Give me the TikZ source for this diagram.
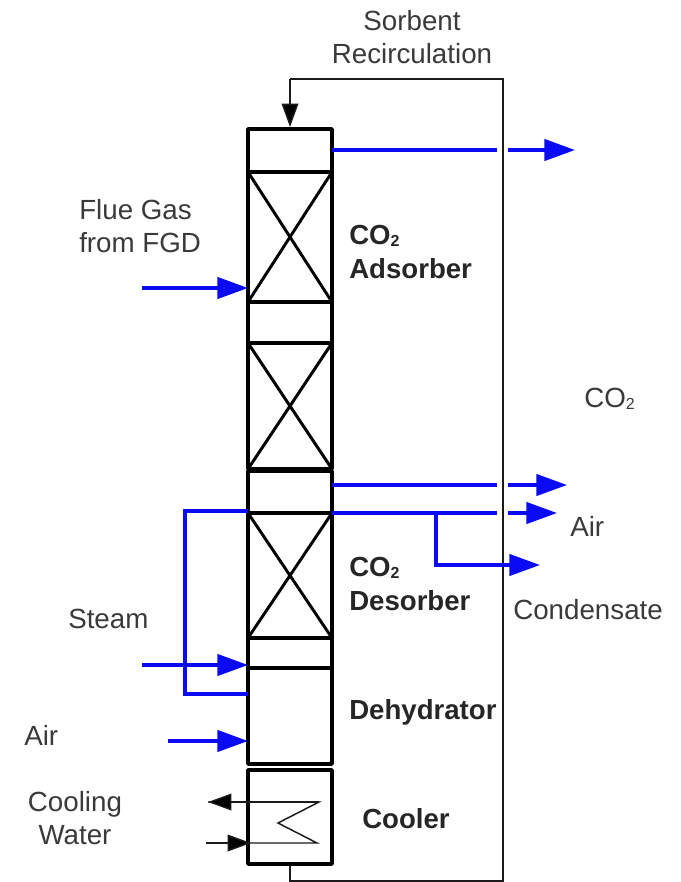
\documentclass[tikz,border=0pt]{standalone}
\usepackage{fontspec}
\setmainfont{Liberation Sans}
\usetikzlibrary{fit,arrows.meta,calc}
\definecolor{gasblue}{HTML}{0A0AF5}
\definecolor{textgrey}{HTML}{3A3A3A}
\definecolor{linegrey}{HTML}{1A1A1A}
\newcommand{\subtwo}{{\fontsize{12}{12}\selectfont\raisebox{-1.5pt}{2}}}
\tikzset{
  section/.style = {draw=black, line width=2.6pt, inner sep=0pt, outer sep=0pt, line join=round},
  xline/.style   = {draw=black, line width=2.2pt},
  txt/.style     = {font=\fontsize{20.8}{24.75}\selectfont, text=textgrey, align=left, anchor=west, inner sep=0pt},
  unit/.style    = {txt, font=\fontsize{20.7}{25.2}\selectfont\bfseries, text=black!85},
  gas/.style     = {draw=gasblue, line width=2.5pt, line join=miter},
  gasarrow/.style = {gas, -{Triangle[length=23pt,width=16pt,fill=gasblue]}},
  coil/.style    = {draw=linegrey, line width=1.1pt},
  coilarrow/.style = {coil, -{Triangle[length=17.5pt,width=12.5pt,fill=black]}},
}
\begin{document}
\begin{tikzpicture}[x=0.75pt,y=-0.75pt]
\useasboundingbox (0,0) rectangle (681,882);

%% recirculation loop, behind the tower
\coordinate (rcA) at (290,864);
\coordinate (rcB) at (290,881);
\coordinate (rcC) at (503,881);
\coordinate (rcD) at (503,79);
\coordinate (rcE) at (290,79);
\coordinate (rcF) at (290,127);
\draw[coil] (rcA) -- (rcB) -- (rcC) -- (rcD) -- (rcE);
\draw[coilarrow] (rcE) -- (rcF);

%% tower sections
\foreach \nm/\ya/\yb in {cap/129/172, bedA/172/302, gapA/302/343, bedB/343/469,
                         gapB/471/513, bedC/513/638, gapC/638/668, dehy/668/764, cool/770/864}
  \node[section, fit={(248,\ya)(332,\yb)}] (\nm) {};
\foreach \nm in {bedA,bedB,bedC} {
  \draw[xline] (\nm.north west) -- (\nm.south east);
  \draw[xline] (\nm.north east) -- (\nm.south west);
}

%% cooler coil
\coordinate (cwOut) at (208,802);
\coordinate (cwA) at (319,802);
\coordinate (cwB) at (278,823);
\coordinate (cwC) at (317,843);
\coordinate (cwIn) at (206,843);
\coordinate (cwTip) at (251,843);
\draw[coil] (cwIn) -- (cwC) -- (cwB) -- (cwA) -- (cwOut);
\draw[coilarrow] (cwA) -- (cwOut);
\draw[coilarrow] (cwIn) -- (cwTip);

%% gas feeds
\coordinate (flueIn) at (142,288);
\coordinate (steamIn) at (142,665);
\coordinate (airIn) at (168,741);
\draw[gasarrow] (flueIn) -- (flueIn -| bedA.west);
\draw[gasarrow] (steamIn) -- (steamIn -| gapC.west);
\draw[gasarrow] (airIn) -- (airIn -| dehy.west);

%% dehydrator return
\coordinate (rtA) at (248,511);
\coordinate (rtB) at (185,511);
\coordinate (rtC) at (185,694);
\coordinate (rtD) at (248,694);
\draw[gas] (rtA) -- (rtB) -- (rtC) -- (rtD);

%% outlets, broken at the loop
\coordinate (outA) at (497,150);
\coordinate (outB) at (497,485);
\coordinate (outC) at (497,513);
\coordinate (tipA) at (575,150);
\coordinate (tipB) at (567,485);
\coordinate (tipC) at (557,513);
\draw[gas] (cap.east |- outA) -- (outA);
\draw[gas] (gapB.east |- outB) -- (outB);
\draw[gas] (bedC.north east) -- (outC);
\draw[gasarrow] ($(outA)+(11,0)$) -- (tipA);
\draw[gasarrow] ($(outB)+(11,0)$) -- (tipB);
\draw[gasarrow] ($(outC)+(11,0)$) -- (tipC);

%% condensate branch
\coordinate (cdA) at (436,513);
\coordinate (cdB) at (436,565);
\coordinate (cdC) at (540,565);
\draw[gasarrow] (cdA) -- (cdB) -- (cdC);

%% labels
\node[txt, align=center, anchor=center] (sorbent) at (412,37) {Sorbent\\Recirculation};
\node[txt] (flue) at (79,226) {Flue Gas\\from FGD};
\node[txt] (co2) at (584,399) {CO\subtwo};
\node[txt] (air2) at (570,526) {Air};
\node[txt] (cond) at (513,610) {Condensate};
\node[txt] (steam) at (68,619) {Steam};
\node[txt] (air1) at (24,735) {Air};
\node[txt, align=center, anchor=center] (water) at (75,818) {Cooling\\Water};
\node[unit] (adsorber) at (349,252) {CO\subtwo\\Adsorber};
\node[unit] (desorber) at (349,584) {CO\subtwo\\Desorber};
\node[unit] (dehylab) at (349,712) {Dehydrator};
\node[unit] (coollab) at (362,819) {Cooler};

\end{tikzpicture}
\end{document}
